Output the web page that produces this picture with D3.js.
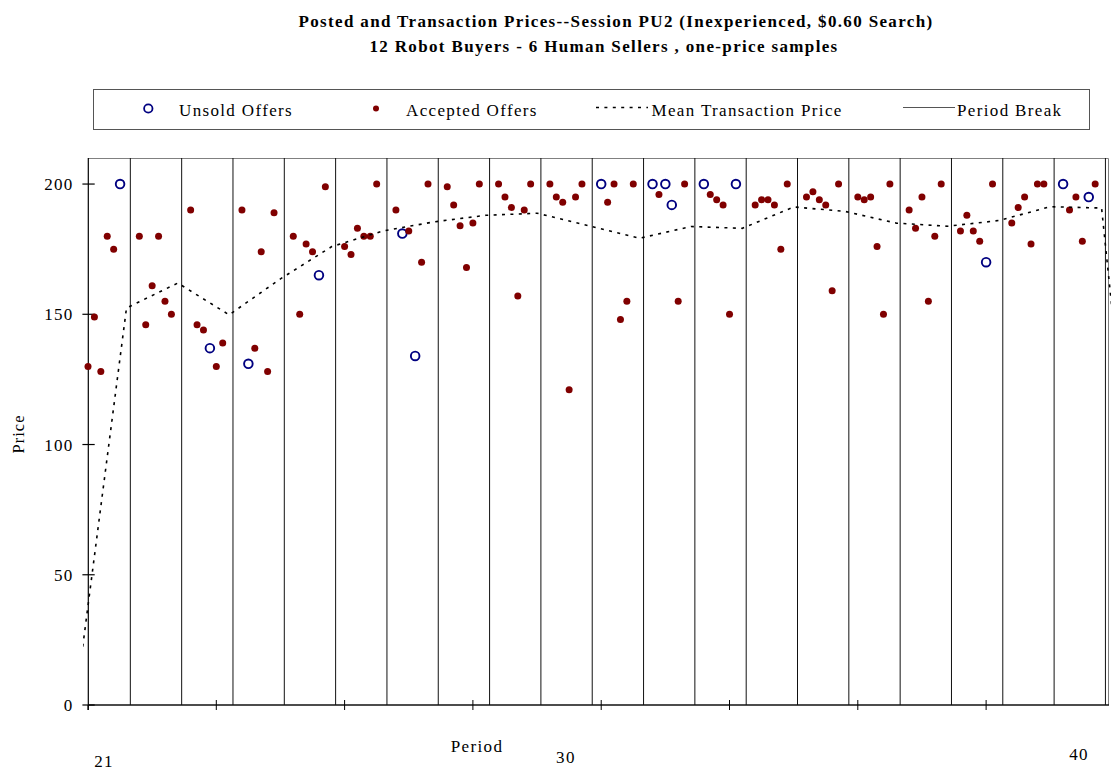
<!DOCTYPE html>
<html><head><meta charset="utf-8">
<script src="https://cdn.jsdelivr.net/npm/d3@7"></script>
<style>
body{margin:0;background:#fff}
svg{display:block}
text{font-family:"Liberation Serif","Times New Roman",serif;fill:#000}
</style>
</head><body>
<svg id="chart" width="1111" height="771"></svg>
<script>
// ---------------- DATA ----------------
const titleLines = [
  "Posted and Transaction Prices--Session PU2 (Inexperienced, $0.60 Search)",
  "12 Robot Buyers - 6 Human Sellers , one-price samples"
];
const periods = [21,22,23,24,25,26,27,28,29,30,31,32,33,34,35,36,37,38,39,40];
// six offers per period (one per seller), in order
const offerPrices = [
  [130,149,128,180,175,200],
  [180,146,161,180,155,150],
  [190,146,144,137,130,139],
  [190,131,137,174,128,189],
  [180,150,177,174,165,199],
  [176,173,183,180,180,200],
  [190,181,182,134,170,200],
  [199,192,184,168,185,200],
  [200,195,191,157,190,200],
  [200,195,193,121,195,200],
  [200,193,200,148,155,200],
  [200,196,200,192,155,200],
  [200,196,194,192,150,200],
  [192,194,194,192,175,200],
  [195,197,194,192,159,200],
  [195,194,195,176,150,200],
  [190,183,195,155,180,200],
  [182,188,182,178,170,200],
  [185,191,195,177,200,200],
  [200,190,195,178,195,200]
];
// 1 = accepted, 0 = unsold
const offerSold = [
  [1,1,1,1,1,0],
  [1,1,1,1,1,1],
  [1,1,1,0,1,1],
  [1,0,1,1,1,1],
  [1,1,1,1,0,1],
  [1,1,1,1,1,1],
  [1,0,1,0,1,1],
  [1,1,1,1,1,1],
  [1,1,1,1,1,1],
  [1,1,1,1,1,1],
  [0,1,1,1,1,1],
  [0,1,0,0,1,1],
  [0,1,1,1,1,0],
  [1,1,1,1,1,1],
  [1,1,1,1,1,1],
  [1,1,1,1,1,1],
  [1,1,1,1,1,1],
  [1,1,1,1,0,1],
  [1,1,1,1,1,1],
  [0,1,1,1,0,1]
];
const meanPeriods = [20,21,22,23,24,25,26,27,28,29,30,31,32,33,34,35,36,37,38,39,40,41];
const meanPrices  = [0,152.4,162,149.8,163.6,176,182,185.5,188,188.8,184,179.2,183.7,183,191.2,189.5,185,183.8,186,191.3,190.8,0];
const yTicks = [0,50,100,150,200];
const xTicks = [0,20,40,60,80,100,120,140];
const periodLabels = [21,30,40];
const legendLabels = ["Unsold Offers","Accepted Offers","Mean Transaction Price","Period Break"];

// ---------------- LAYOUT ----------------
const svg = d3.select("#chart");
const L = 88, R = 1108, T = 158, B = 705;
const SLOTS = 8, FIRST = 21;
const x = d3.scaleLinear().domain([0,159]).range([L,R]);
const y = d3.scaleLinear().domain([0,210]).range([B,T]);
const slotX = (p, j) => x(SLOTS*(p-FIRST) + j);
const LS = "1.35px";
const FS = "17px";

// titles
svg.append("text").attr("x",616).attr("y",26.5).attr("text-anchor","middle")
  .style("font-size",FS).style("font-weight","bold").style("letter-spacing",LS).text(titleLines[0]);
svg.append("text").attr("x",604).attr("y",51.5).attr("text-anchor","middle")
  .style("font-size",FS).style("font-weight","bold").style("letter-spacing",LS).text(titleLines[1]);

// legend
const lg = svg.append("g");
lg.append("rect").attr("x",93.5).attr("y",89.5).attr("width",996).attr("height",40)
  .attr("fill","#fff").attr("stroke","#555").attr("stroke-width",1);
lg.append("circle").attr("cx",148.3).attr("cy",108.5).attr("r",4.2)
  .attr("fill","none").attr("stroke","#000080").attr("stroke-width",1.8);
lg.append("circle").attr("cx",376).attr("cy",108.5).attr("r",3)
  .attr("fill","#800000");
lg.append("line").attr("x1",596).attr("x2",648).attr("y1",107.5).attr("y2",107.5)
  .attr("stroke","#000").attr("stroke-width",1.6).attr("stroke-dasharray","3,5.4");
lg.append("line").attr("x1",903).attr("x2",955).attr("y1",107.5).attr("y2",107.5)
  .attr("stroke","#555").attr("stroke-width",1);
const legX = [179, 406, 651.5, 957];
legendLabels.forEach((t,i)=>{
  lg.append("text").attr("x",legX[i]).attr("y",116).style("font-size",FS)
    .style("letter-spacing",LS).text(t);
});

// plot frame (top/right grey border)
svg.append("path")
  .attr("d",`M${L},${T+0.5}H${R+0.5}V${B}`)
  .attr("fill","none").attr("stroke","#808080").attr("stroke-width",1);

// period breaks
const breaks = periods.map(p => SLOTS*(p-FIRST) + 6.6);
svg.append("g").selectAll("line").data(breaks).join("line")
  .attr("x1",d=>x(d)).attr("x2",d=>x(d)).attr("y1",T).attr("y2",B)
  .attr("stroke","#111").attr("stroke-width",1);

// axes
svg.append("line").attr("x1",L+0.3).attr("x2",L+0.3).attr("y1",T).attr("y2",B+5)
  .attr("stroke","#000").attr("stroke-width",1.2);
svg.append("line").attr("x1",L).attr("x2",R+1).attr("y1",B).attr("y2",B)
  .attr("stroke","#111").attr("stroke-width",1.5);
// y ticks (crossing)
svg.append("g").selectAll("line").data(yTicks).join("line")
  .attr("x1",L-5.6).attr("x2",L+6.7).attr("y1",d=>y(d)).attr("y2",d=>y(d))
  .attr("stroke","#000").attr("stroke-width",1.2);
svg.append("g").selectAll("text").data(yTicks).join("text")
  .attr("x",L-14.3).attr("y",d=>y(d)+6).attr("text-anchor","end")
  .style("font-size",FS).style("letter-spacing",LS).text(d=>d);
// x ticks (crossing)
svg.append("g").selectAll("line").data(xTicks).join("line")
  .attr("x1",d=>x(d)).attr("x2",d=>x(d)).attr("y1",d=>d===0?B:B-5).attr("y2",B+5)
  .attr("stroke","#000").attr("stroke-width",1);
// period labels
const labelBase = [767, 762.5, 760];
svg.append("g").selectAll("text").data(periodLabels).join("text")
  .attr("x",d=>x(SLOTS*(d-FIRST)+2.5)).attr("y",(d,i)=>labelBase[i]).attr("text-anchor","middle")
  .style("font-size",FS).style("letter-spacing",LS).text(d=>d);
svg.append("text").attr("x",477).attr("y",752).attr("text-anchor","middle")
  .style("font-size",FS).style("letter-spacing",LS).text("Period");
svg.append("text").attr("transform","translate(24,434) rotate(-90)").attr("text-anchor","middle")
  .style("font-size","16.5px").style("letter-spacing","1px").text("Price");

// offers
const offers = [];
periods.forEach((p,i)=>offerPrices[i].forEach((v,j)=>offers.push({p, j, v, sold: offerSold[i][j]})));

svg.append("g").selectAll("circle").data(offers.filter(d=>!d.sold)).join("circle")
  .attr("cx",d=>slotX(d.p,d.j)).attr("cy",d=>y(d.v)).attr("r",4.3)
  .attr("fill","none").attr("stroke","#000080").attr("stroke-width",1.9);
svg.append("g").selectAll("circle").data(offers.filter(d=>d.sold)).join("circle")
  .attr("cx",d=>slotX(d.p,d.j)).attr("cy",d=>y(d.v)).attr("r",3.5)
  .attr("fill","#800000");

// mean line
svg.append("clipPath").attr("id","mclip").append("rect")
  .attr("x",83).attr("y",0).attr("width",1111-83).attr("height",B);
const meanData = meanPeriods.map((p,i)=>({p, v: meanPrices[i]}));
svg.append("path").datum(meanData)
  .attr("clip-path","url(#mclip)")
  .attr("d", d3.line().x(d=>x(SLOTS*(d.p-FIRST)+6)).y(d=>y(d.v)))
  .attr("fill","none").attr("stroke","#000").attr("stroke-width",1.6)
  .attr("stroke-dasharray","3,5.4");
</script>
</body></html>
